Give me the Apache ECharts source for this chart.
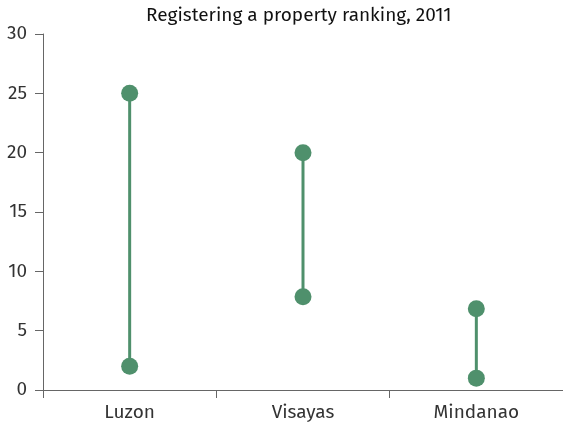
<!DOCTYPE html>
<html><head><meta charset="utf-8">
<script src="https://cdn.jsdelivr.net/npm/echarts@6/dist/echarts.min.js"></script>
<style>html,body{margin:0;padding:0;background:#fff}#c{width:563px;height:428px}</style>
</head><body><div id="c"></div>
<script>
var categories = ['Luzon', 'Visayas', 'Mindanao'];
var lowValues = [2, 7.85, 1];
var highValues = [25, 20, 6.85];
var yTicks = {min: 0, max: 30, interval: 5};

var color = '#4f906c';
var data = categories.map(function (c, i) { return [i, lowValues[i], highValues[i]]; });
var chart = echarts.init(document.getElementById('c'));
var font = '"Fira Sans", "Open Sans", "Noto Sans", sans-serif';
chart.setOption({
  animation: false,
  title: {text: 'Registering a property ranking, 2011', left: 141, top: 1,
    textStyle: {fontFamily: font, fontSize: 19, fontWeight: 'normal', color: '#111'}},
  grid: {left: 43, width: 530, top: 34, bottom: 38},
  xAxis: {type: 'category', data: categories,
    axisLine: {lineStyle: {color: '#666'}},
    axisTick: {show: true, length: 8, lineStyle: {color: '#666'}},
    axisLabel: {fontFamily: font, fontSize: 19, color: '#333', margin: 13}},
  yAxis: {type: 'value', min: yTicks.min, max: yTicks.max, interval: yTicks.interval,
    axisLine: {show: true, lineStyle: {color: '#666'}},
    axisTick: {show: true, length: 8, lineStyle: {color: '#666'}},
    splitLine: {show: false},
    axisLabel: {fontFamily: font, fontSize: 19, color: '#333', margin: 16}},
  series: [{
    type: 'custom',
    data: data,
    encode: {x: 0, y: [1, 2]},
    renderItem: function (params, api) {
      var x = api.value(0);
      var p1 = api.coord([x, api.value(1)]);
      var p2 = api.coord([x, api.value(2)]);
      return {type: 'group', children: [
        {type: 'line', shape: {x1: p1[0], y1: p1[1], x2: p2[0], y2: p2[1]}, style: {stroke: color, lineWidth: 3}},
        {type: 'circle', shape: {cx: p1[0], cy: p1[1], r: 8.5}, style: {fill: color}},
        {type: 'circle', shape: {cx: p2[0], cy: p2[1], r: 8.5}, style: {fill: color}}
      ]};
    }
  }]
});
</script></body></html>
